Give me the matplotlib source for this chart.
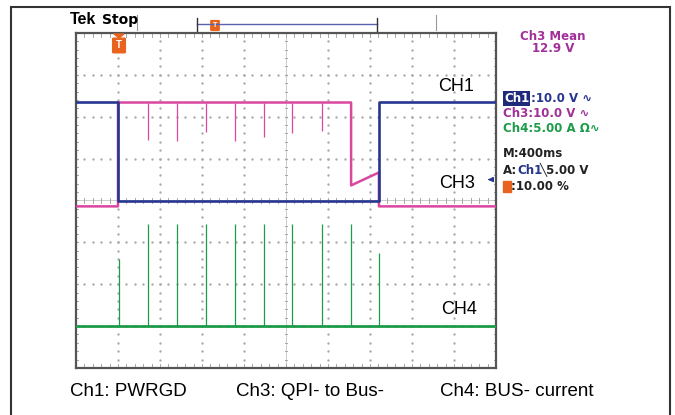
import numpy as np
import matplotlib.pyplot as plt
from matplotlib.patches import Rectangle, FancyBboxPatch, Polygon

# Captura de osciloscopio Tek: PWRGD, QPI- a Bus- y corriente de BUS-
# Tiempo en ms (M: 400 ms/div), amplitudes en divisiones de pantalla

ms_div = 400.0

# CH1 (PWRGD)
ch1_t = [0, 400, 400, 2885, 2885, 4000]
ch1_y = [2.36, 2.36, -0.02, -0.02, 2.36, 2.36]

# CH3 (QPI- to Bus-)
ch3_t = [0, 400, 400, 2620, 2620, 2885, 2885, 4000]
ch3_y = [-0.14, -0.14, 2.34, 2.34, 0.36, 0.67, -0.14, -0.14]
ch3_dip_t = [688, 964, 1236, 1516, 1792, 2060, 2340]
ch3_dip_y = [1.45, 1.43, 1.63, 1.41, 1.52, 1.62, 1.65]

# CH4 (BUS- current)
ch4_base = -2.99
ch4_spike_t = [412, 688, 964, 1240, 1516, 1792, 2060, 2340, 2616, 2888]
ch4_spike_y = [-1.39, -0.57, -0.57, -0.57, -0.57, -0.57, -0.57, -0.57, -0.57, -1.25]

azul = '#27368f'
rosa = '#d9479f'
verde = '#1c9c48'
morado = '#a0309a'
naranja = '#e8641e'
gris = '#a8a8a8'

plt.rcParams['font.family'] = ['Liberation Sans', 'DejaVu Sans']

fig = plt.figure(figsize=(6.75, 4.15), dpi=100)
W, H = 675.0, 415.0

def fx(px):
    return px / W

def fy(py):
    return 1 - py / H

ax = fig.add_axes([fx(76), fy(368), 420 / W, 335 / H])
ax.set_xlim(0, 10)
ax.set_ylim(-4, 4)
ax.set_xticks([])
ax.set_yticks([])
for s in ax.spines.values():
    s.set_color('#555555')
    s.set_linewidth(1.6)

# Reticula punteada
paso = np.arange(0, 10.01, 0.2)
paso_y = np.arange(-4, 4.01, 0.2)
for k in range(1, 10):
    if k == 5:
        continue
    ax.plot(np.full_like(paso_y, k), paso_y, ls='none', marker='.', ms=1.4, color=gris)
for k in range(-3, 4):
    if k == 0:
        continue
    ax.plot(paso, np.full_like(paso, k), ls='none', marker='.', ms=1.4, color=gris)

# Ejes centrales con marcas
ax.axvline(5, color='#c4c4c4', lw=0.6)
ax.axhline(0, color='#c4c4c4', lw=0.6)
for v in paso:
    ax.plot([v, v], [-0.06, 0.06], color=gris, lw=0.7)
    ax.plot([v, v], [-4, -3.9], color=gris, lw=0.7)
    ax.plot([v, v], [4, 3.9], color=gris, lw=0.7)
for v in paso_y:
    ax.plot([4.97, 5.03], [v, v], color=gris, lw=0.7)
    ax.plot([0, 0.05], [v, v], color=gris, lw=0.7)
    ax.plot([9.95, 10], [v, v], color=gris, lw=0.7)

# Trazas
t1 = np.array(ch1_t) / ms_div
t3 = np.array(ch3_t) / ms_div
ax.plot(t3, ch3_y, color=rosa, lw=1.8, zorder=3)
ax.vlines(np.array(ch3_dip_t) / ms_div, ch3_dip_y, 2.34, color=rosa, lw=0.9, zorder=3)
ax.plot(t1, ch1_y, color=azul, lw=1.9, zorder=4)
ax.plot([0, 10], [ch4_base, ch4_base], color=verde, lw=2.0, zorder=3)
ax.vlines(np.array(ch4_spike_t) / ms_div, ch4_base, ch4_spike_y, color=verde, lw=0.9, zorder=3)

ax.text(9.05, 2.73, 'CH1', fontsize=13, ha='center', va='center')
ax.text(9.08, 0.4, 'CH3', fontsize=13, ha='center', va='center')
ax.text(9.12, -2.6, 'CH4', fontsize=13, ha='center', va='center')

# Indicador de nivel de disparo
ax.annotate('', xy=(9.74, 0.5), xytext=(9.93, 0.5),
            arrowprops=dict(arrowstyle='-|>', color=azul, lw=1.0, mutation_scale=7))

# Marcador de disparo (T)
fig.patches.append(Polygon([[fx(114), fy(34)], [fx(124), fy(34)], [fx(119), fy(38)]],
                           closed=True, transform=fig.transFigure, color=naranja))
fig.patches.append(FancyBboxPatch((fx(114), fy(52)), 10 / W, 13 / H,
                                  boxstyle='round,pad=0.002', transform=fig.transFigure,
                                  color=naranja))
fig.text(fx(119), fy(45.5), 'T', color='white', fontsize=7, fontweight='bold',
         ha='center', va='center')

# Cabecera
fig.text(fx(70), fy(20), 'Tek', fontsize=11.5, fontweight='bold', va='center')
fig.text(fx(102), fy(20), 'Stop', fontsize=10, fontweight='bold', va='center',
         family='DejaVu Sans')
fig.add_artist(plt.Line2D([fx(136.5)] * 2, [fy(15), fy(30)], color='#999999', lw=0.8))
fig.add_artist(plt.Line2D([fx(436.5)] * 2, [fy(15), fy(30)], color='#999999', lw=0.8))
fig.add_artist(plt.Line2D([fx(197), fx(377)], [fy(24.5)] * 2, color='#5a62b0', lw=1.0))
fig.add_artist(plt.Line2D([fx(197)] * 2, [fy(18), fy(31)], color='#333333', lw=1.0))
fig.add_artist(plt.Line2D([fx(377)] * 2, [fy(18), fy(31)], color='#333333', lw=1.0))
fig.patches.append(FancyBboxPatch((fx(211.5), fy(30)), 7 / W, 9 / H,
                                  boxstyle='round,pad=0.001', transform=fig.transFigure,
                                  color=naranja))
fig.text(fx(215), fy(25.5), 'T', color='white', fontsize=5, fontweight='bold',
         ha='center', va='center')

# Panel derecho
fs = 8.5
mono = ['DejaVu Sans', 'DejaVu Sans Mono']
fig.text(fx(553), fy(37), 'Ch3 Mean', color=morado, fontsize=fs, fontweight='bold',
         ha='center', va='center', family=mono)
fig.text(fx(553), fy(49), '12.9 V', color=morado, fontsize=fs, fontweight='bold',
         ha='center', va='center', family=mono)

fig.text(fx(504), fy(98.5), 'Ch1', color='white', fontsize=fs, fontweight='bold',
         va='center', family=mono,
         bbox=dict(boxstyle='square,pad=0.05', fc='#1f2b7a', ec='none'))
fig.text(fx(531), fy(98.5), ':10.0 V \u223f', color=azul, fontsize=fs, fontweight='bold',
         va='center', family=mono)
fig.text(fx(503), fy(113.5), 'Ch3:10.0 V \u223f', color=morado, fontsize=fs,
         fontweight='bold', va='center', family=mono)
fig.text(fx(503), fy(128.5), 'Ch4:5.00 A \u03a9\u223f', color=verde, fontsize=fs,
         fontweight='bold', va='center', family=mono)
fig.text(fx(503), fy(153), 'M:400ms', color='#222222', fontsize=fs, fontweight='bold',
         va='center', family=mono)
fig.text(fx(503), fy(170), 'A:', color='#222222', fontsize=fs, fontweight='bold',
         va='center', family=mono)
fig.text(fx(517), fy(170), 'Ch1', color=azul, fontsize=fs, fontweight='bold',
         va='center', family=mono)
fig.text(fx(540), fy(170), '\u25725.00 V', color='#222222', fontsize=fs, fontweight='bold',
         va='center', family=mono)
fig.patches.append(Rectangle((fx(503), fy(192)), 8 / W, 11 / H, transform=fig.transFigure,
                             color=naranja))
fig.text(fx(511), fy(186.5), ':10.00 %', color='#222222', fontsize=fs, fontweight='bold',
         va='center', family=mono)

# Leyenda inferior
fig.text(fx(70), fy(391), 'Ch1: PWRGD', fontsize=13.5, va='center')
fig.text(fx(236), fy(391), 'Ch3: QPI- to Bus-', fontsize=13.5, va='center')
fig.text(fx(440), fy(391), 'Ch4: BUS- current', fontsize=13.5, va='center')

# Marco exterior
fig.patches.append(Rectangle((fx(11), fy(430)), 659 / W, 423 / H, transform=fig.transFigure,
                             fill=False, ec='#333333', lw=1.5))

fig.savefig('out.png', dpi=100)
